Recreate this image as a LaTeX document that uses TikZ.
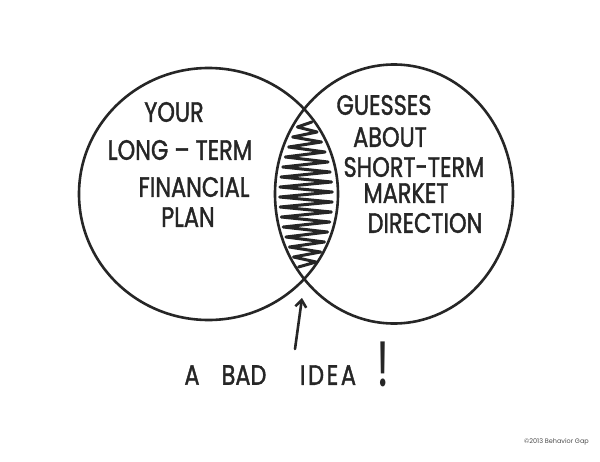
\documentclass[tikz,border=0pt]{standalone}
\usepackage{fontspec}
\usepackage{graphicx}
\setmainfont{Poppins}
\newfontfamily\handfont{Poppins}[FakeBold=1.6]
\newfontfamily\handwide{Poppins}[FakeBold=1.6,LetterSpace=12]
\usetikzlibrary{arrows.meta}
\newcommand{\hw}[1]{\scalebox{0.8}[1]{#1}}
\begin{document}
\begin{tikzpicture}[x=1pt,y=-1pt,
  ink/.style={draw=black!85,line width=2.6pt,line cap=round,line join=round},
  hand/.style={font=\handfont\fontsize{28}{30}\selectfont,text=black!85,inner sep=0pt,anchor=center},
  zig/.style={draw=black!85,line width=3pt,line cap=round,line join=round}]
\fill[white] (0,0) rectangle (600,461);
\useasboundingbox (0,0) rectangle (600,461);
% circles
\draw[ink] (208.5,194) ellipse [x radius=129.5, y radius=126];
\draw[ink] (394,194) ellipse [x radius=119, y radius=129.5];
% zigzag shading in the lens
\draw[zig] plot[domain=0:29,samples=30]
 ({306+cos(180*\x)*0.85*31*(1-((122+5*\x-196)/84)^2)},{122+5*\x});
% texts left
\node[hand] (your) at (174,112) {\hw{YOUR}};
\node[hand] (longterm) at (180,150) {\hw{LONG – TERM}};
\node[hand] (financial) at (194,187) {\hw{FINANCIAL}};
\node[hand] (plan) at (188,217) {\hw{PLAN}};
% texts right
\node[hand] (guesses) at (384,105) {\hw{GUESSES}};
\node[hand] (about) at (390,137) {\hw{ABOUT}};
\node[hand] (shortterm) at (414,167) {\hw{SHORT-TERM}};
\node[hand] (market) at (406,193) {\hw{MARKET}};
\node[hand] (direction) at (425,223) {\hw{DIRECTION}};
% bottom
\node[hand] (a) at (192,375) {\hw{A}};
\node[hand] (bad) at (244,375) {\hw{BAD}};
\node[hand] (idea) at (328,375) {\hw{\handwide\fontsize{28}{30}\selectfont IDEA}};
\node[hand,font=\fontsize{64}{66}\selectfont] (bang) at (383,364) {\scalebox{0.7}[1]{!}};
\coordinate (tail) at (295,349);
\coordinate (tip) at (302,298);
\draw[ink,-{Straight Barb[length=7pt,width=11pt]}] (tail) -- (tip);
\node[font=\fontsize{6.5}{8}\selectfont,text=black!70,inner sep=0pt,anchor=east] (copy) at (589,442) {©2013 Behavior Gap};
\end{tikzpicture}
\end{document}
